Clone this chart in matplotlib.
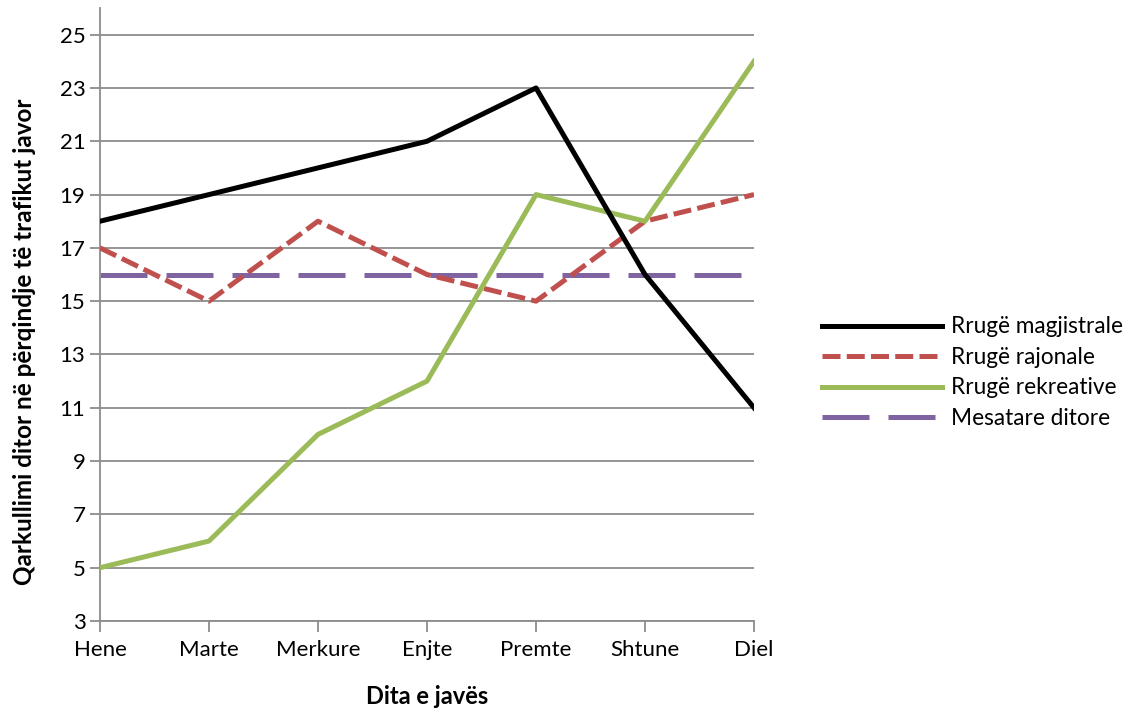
import matplotlib
matplotlib.use("Agg")
import matplotlib.pyplot as plt

plt.rcParams['font.family'] = ['Lato', 'DejaVu Sans']

days = ["Hene", "Marte", "Merkure", "Enjte", "Premte", "Shtune", "Diel"]
magjistrale = [18, 19, 20, 21, 23, 16, 11]
rajonale = [17, 15, 18, 16, 15, 18, 19]
rekreative = [5, 6, 10, 12, 19, 18, 24]
mesatare = [16, 16, 16, 16, 16, 16, 16]
yticks = list(range(3, 26, 2))

fig = plt.figure(figsize=(11.39, 7.15), dpi=100)
ax = fig.add_axes([100/1139, 94/715, 654/1139, 613/715])

x = range(len(days))
lw = 3.6
ax.plot(x, magjistrale, color="black", lw=lw, label="Rrugë magjistrale", zorder=4)
ax.plot(x, rajonale, color="#C0504D", lw=lw, ls=(0, (3.6, 1.25)), label="Rrugë rajonale", zorder=3)
ax.plot(x, rekreative, color="#9BBB59", lw=lw, label="Rrugë rekreative", zorder=3)
ax.plot(x, mesatare, color="#8064A2", lw=lw, ls=(0, (9.4, 3.8)), label="Mesatare ditore", zorder=2)

ax.set_xlim(0, 6)
ax.set_ylim(3, 26)
ax.set_xticks(list(x))
ax.set_xticklabels(days)
ax.set_yticks(yticks)
ax.grid(axis="y", color="#8c8c8c", lw=1.3)
ax.set_axisbelow(True)

for s in ["top", "right"]:
    ax.spines[s].set_visible(False)
for s in ["left", "bottom"]:
    ax.spines[s].set_color("#8c8c8c")
    ax.spines[s].set_linewidth(1.3)
ax.tick_params(axis="both", colors="#8c8c8c", length=7, width=1.3, labelsize=16,
               labelcolor="black")
ax.tick_params(axis="x", length=8, pad=6)

ax.set_xlabel("Dita e javës", fontsize=17, fontweight="bold", labelpad=18)
ax.set_ylabel("Qarkullimi ditor në përqindje të trafikut javor", fontsize=17.5,
              fontweight="bold")
ax.yaxis.set_label_coords(-0.098, 0.455)

ax.legend(loc="center left", bbox_to_anchor=(1.09, 0.405), frameon=False, fontsize=16.3,
          handlelength=5.3, handletextpad=0.4, labelspacing=0.42, borderaxespad=0)

fig.savefig("out.png", dpi=100)
